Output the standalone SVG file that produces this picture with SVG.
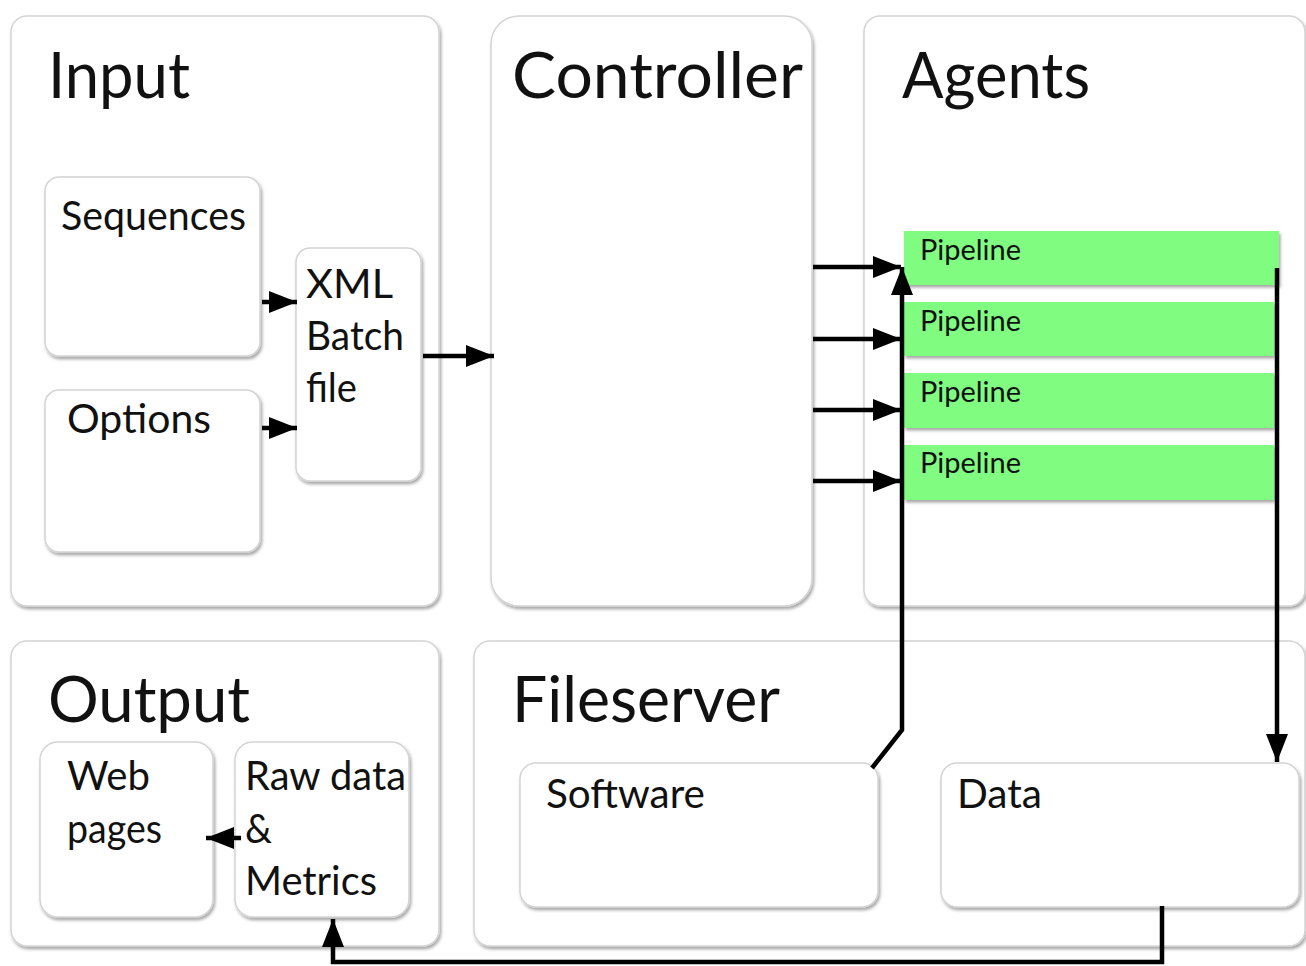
<svg xmlns="http://www.w3.org/2000/svg" width="1306" height="966" viewBox="0 0 1306 966">
<defs>
<filter id="sh" x="-5%" y="-5%" width="115%" height="115%">
<feDropShadow dx="1.5" dy="2.5" stdDeviation="1.6" flood-color="#000" flood-opacity="0.35"/>
</filter>
<marker id="ah" markerUnits="userSpaceOnUse" markerWidth="30" markerHeight="22" refX="28" refY="11" orient="auto">
<path d="M0,0 L28,11 L0,22 z" fill="#000"/>
</marker>
</defs>
<style>
.panel{fill:#fff;stroke:#d4d4d4;stroke-width:1.5;filter:url(#sh)}
.box{fill:#fff;stroke:#d4d4d4;stroke-width:1.5;filter:url(#sh)}
.pipe{fill:#80fc80;filter:url(#sh)}
.t{font-family:Lato,"Liberation Sans",sans-serif;fill:#111}
.h{font-size:64px}
.m{font-size:40px}
.s{font-size:28px}
.c{fill:none;stroke:#000;stroke-width:4.5}
</style>
<rect width="1306" height="966" fill="#fff"/>

<g id="input">
<rect class="panel" x="11" y="16" width="428" height="590" rx="16"/>
<text class="t h" x="48" y="98" textLength="142" lengthAdjust="spacingAndGlyphs">Input</text>
</g>
<g id="sequences">
<rect class="box" x="45" y="177" width="215" height="179" rx="14"/>
<text class="t m" x="61" y="230" textLength="185" lengthAdjust="spacingAndGlyphs">Sequences</text>
</g>
<g id="options">
<rect class="box" x="45" y="390" width="215" height="162" rx="14"/>
<text class="t m" x="67" y="433" textLength="144" lengthAdjust="spacingAndGlyphs">Options</text>
</g>
<g id="xmlbatch">
<rect class="box" x="296" y="248" width="125" height="233" rx="14"/>
<text class="t m" x="306" y="298" textLength="87" lengthAdjust="spacingAndGlyphs">XML</text>
<text class="t m" x="306" y="350" textLength="98" lengthAdjust="spacingAndGlyphs">Batch</text>
<text class="t m" x="306" y="402" textLength="51" lengthAdjust="spacingAndGlyphs">file</text>
</g>
<g id="controller">
<rect class="panel" x="491" y="16" width="321" height="590" rx="28"/>
<text class="t h" x="512" y="98" textLength="291" lengthAdjust="spacingAndGlyphs">Controller</text>
</g>
<g id="agents">
<rect class="panel" x="864" y="16" width="441" height="590" rx="16"/>
<text class="t h" x="902" y="98" textLength="188" lengthAdjust="spacingAndGlyphs">Agents</text>
</g>
<g id="pipeline1">
<rect class="pipe" x="904" y="231" width="375" height="54"/>
<text class="t s" x="920" y="260" textLength="101" lengthAdjust="spacingAndGlyphs">Pipeline</text>
</g>
<g id="pipeline2">
<rect class="pipe" x="904" y="302" width="370" height="54"/>
<text class="t s" x="920" y="331" textLength="101" lengthAdjust="spacingAndGlyphs">Pipeline</text>
</g>
<g id="pipeline3">
<rect class="pipe" x="904" y="373" width="370" height="55"/>
<text class="t s" x="920" y="402" textLength="101" lengthAdjust="spacingAndGlyphs">Pipeline</text>
</g>
<g id="pipeline4">
<rect class="pipe" x="904" y="445" width="370" height="55"/>
<text class="t s" x="920" y="473" textLength="101" lengthAdjust="spacingAndGlyphs">Pipeline</text>
</g>
<g id="output">
<rect class="panel" x="11" y="641" width="428" height="305" rx="16"/>
<text class="t h" x="48" y="722" textLength="202" lengthAdjust="spacingAndGlyphs">Output</text>
</g>
<g id="webpages">
<rect class="box" x="40" y="742" width="173" height="175" rx="18"/>
<text class="t m" x="67" y="790" textLength="83" lengthAdjust="spacingAndGlyphs">Web</text>
<text class="t m" x="67" y="843" textLength="95" lengthAdjust="spacingAndGlyphs">pages</text>
</g>
<g id="rawdata">
<rect class="box" x="235" y="742" width="174" height="175" rx="18"/>
<text class="t m" x="245" y="790" textLength="161" lengthAdjust="spacingAndGlyphs">Raw data</text>
<text class="t m" x="245" y="843" textLength="27" lengthAdjust="spacingAndGlyphs">&amp;</text>
<text class="t m" x="245" y="895" textLength="132" lengthAdjust="spacingAndGlyphs">Metrics</text>
</g>
<g id="fileserver">
<rect class="panel" x="474" y="641" width="831" height="305" rx="16"/>
<text class="t h" x="512" y="722" textLength="268" lengthAdjust="spacingAndGlyphs">Fileserver</text>
</g>
<g id="software">
<rect class="box" x="520" y="763" width="358" height="144" rx="16"/>
<text class="t m" x="546" y="808" textLength="159" lengthAdjust="spacingAndGlyphs">Software</text>
</g>
<g id="data">
<rect class="box" x="941" y="763" width="358" height="144" rx="16"/>
<text class="t m" x="957" y="808" textLength="85" lengthAdjust="spacingAndGlyphs">Data</text>
</g>

<g id="connectors">
<path class="c" d="M262,302 L297,302" marker-end="url(#ah)"/>
<path class="c" d="M262,428 L297,428" marker-end="url(#ah)"/>
<path class="c" d="M423,356 L494,356" marker-end="url(#ah)"/>
<path class="c" d="M813,267 L901,267" marker-end="url(#ah)"/>
<path class="c" d="M813,339 L901,339" marker-end="url(#ah)"/>
<path class="c" d="M813,410 L901,410" marker-end="url(#ah)"/>
<path class="c" d="M813,481 L901,481" marker-end="url(#ah)"/>
<path class="c" d="M872,768 L902,730 L902,267" marker-end="url(#ah)"/>
<path class="c" d="M1277,268 L1277,762" marker-end="url(#ah)"/>
<path class="c" d="M241,838 L206,838" marker-end="url(#ah)"/>
<path class="c" d="M1162,906 L1162,962 L333,962 L333,919" marker-end="url(#ah)"/>
</g>
</svg>
